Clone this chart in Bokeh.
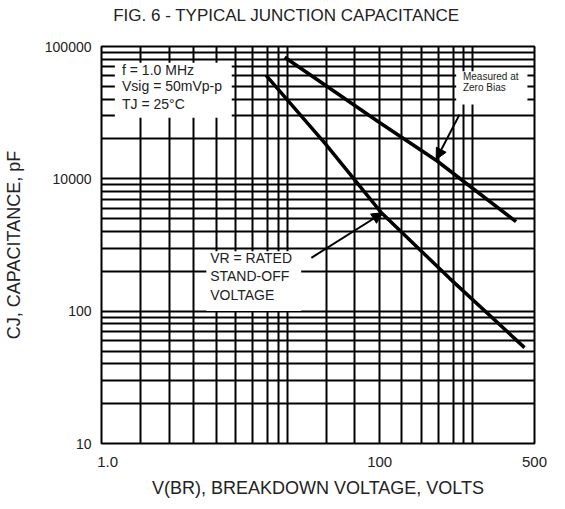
from bokeh.plotting import figure
from bokeh.models import (Range1d, FixedTicker, Label, BoxAnnotation, Arrow,
                          NormalHead, LogAxis)
from bokeh.embed import file_html
from bokeh.resources import INLINE

# ---- data ----
# Measured at zero bias
zero_bias_v = [9.7, 31.0, 64.0, 171.0]
zero_bias_c = [8300, 2700, 1370, 475]
# Measured at rated stand-off voltage
rated_v = [7.7, 16.0, 32.0, 75.0, 190.0]
rated_c = [6050, 1850, 560, 177, 53]

x_tick_values = [1.08, 31.5, 215]
x_tick_labels = ["1.0", "100", "500"]
y_tick_values = [10, 100, 1000, 10000]
y_tick_labels = ["10", "100", "10000", "100000"]
title_text = "FIG. 6 - TYPICAL JUNCTION CAPACITANCE"

FONT = "Liberation Sans"
INK = "#222222"

p = figure(width=556, height=500, x_axis_type="log", y_axis_type="log",
           x_range=Range1d(1, 215), y_range=Range1d(10, 10000),
           output_backend="svg", toolbar_location=None,
           min_border_left=101, min_border_right=22,
           min_border_top=46, min_border_bottom=57)
p.background_fill_color = "white"
p.border_fill_color = "white"
p.outline_line_color = "black"
p.outline_line_width = 2

bottom_axis = p.below[0]
left_axis = p.left[0]

# grid (pseudo-log grid of the original sheet)
x_mult = [1.63, 2.32, 3.13, 4.14, 5.3, 6.51, 7.84, 8.94]
xgrid = [m * d for d in (1, 10) for m in x_mult] + [10, 100]
ygrid = [m * d for d in (10, 100, 1000) for m in range(2, 10)] + [100, 1000]
p.xgrid.ticker = FixedTicker(ticks=xgrid)
p.ygrid.ticker = FixedTicker(ticks=ygrid)
for g in (p.xgrid, p.ygrid):
    g.grid_line_color = "black"
    g.grid_line_width = 2
    g.grid_line_alpha = 1.0

# title: drawn as the single label of a bare axis above the frame
title_pos = 9.94
top_axis = LogAxis(ticker=FixedTicker(ticks=[title_pos]),
                   major_label_overrides={title_pos: title_text})
p.add_layout(top_axis, "above")

# axes
bottom_axis.ticker = FixedTicker(ticks=x_tick_values)
left_axis.ticker = FixedTicker(ticks=y_tick_values)
bottom_axis.major_label_overrides = dict(zip(x_tick_values, x_tick_labels))
left_axis.major_label_overrides = dict(zip(y_tick_values, y_tick_labels))
for ax in (bottom_axis, left_axis, top_axis):
    ax.axis_line_color = None
    ax.major_tick_line_color = None
    ax.minor_tick_line_color = None
    ax.major_tick_out = 0
    ax.major_tick_in = 0
    ax.minor_tick_out = 0
    ax.minor_tick_in = 0
    ax.major_label_text_font = FONT
    ax.major_label_text_color = INK
    ax.axis_label_text_font = FONT
    ax.axis_label_text_font_size = "18px"
    ax.axis_label_text_font_style = "normal"
    ax.axis_label_text_color = INK
top_axis.major_label_text_font_size = "17px"
top_axis.major_label_standoff = 22
bottom_axis.major_label_text_font_size = "15px"
left_axis.major_label_text_font_size = "14px"
bottom_axis.major_label_standoff = 13
left_axis.major_label_standoff = 10
bottom_axis.axis_label = "V(BR), BREAKDOWN VOLTAGE, VOLTS"
left_axis.axis_label = "CJ, CAPACITANCE, pF"
bottom_axis.axis_label_standoff = 8
left_axis.axis_label_standoff = 18

# curves
p.line(zero_bias_v, zero_bias_c, line_color="black", line_width=3.5)
p.line(rated_v, rated_c, line_color="black", line_width=3.5)

# white annotation boxes
for l, r, b, t in [(1.18, 5.03, 2900, 7550), (3.67, 11.9, 100.5, 284),
                   (81.4, 197, 3640, 6490)]:
    p.add_layout(BoxAnnotation(left=l, right=r, bottom=b, top=t,
                               fill_color="white", fill_alpha=1.0,
                               line_color=None, level="annotation"))

def lab(x, y, text, size):
    p.add_layout(Label(x=x, y=y, text=text, text_font=FONT,
                       text_font_size=size, text_color=INK,
                       text_align="left", text_baseline="middle"))

lab(1.29, 6700, "f = 1.0 MHz", "14px")
lab(1.29, 5050, "Vsig = 50mVp-p", "14px")
lab(1.29, 3700, "TJ = 25°C", "14px")
lab(3.85, 252, "VR = RATED", "14px")
lab(3.85, 183, "STAND-OFF", "14px")
lab(3.85, 133, "VOLTAGE", "14px")
lab(88.5, 5950, "Measured at", "10px")
lab(88.5, 4900, "Zero Bias", "10px")

# arrows
for xs, ys, xe, ye in [(84.8, 3057, 63.5, 1400), (13.5, 253, 32.8, 554)]:
    p.add_layout(Arrow(end=NormalHead(size=11, fill_color="black",
                                      line_color="black"),
                       x_start=xs, y_start=ys, x_end=xe, y_end=ye,
                       line_width=2, line_color="black"))

open("out.html", "w").write(file_html(p, INLINE))
